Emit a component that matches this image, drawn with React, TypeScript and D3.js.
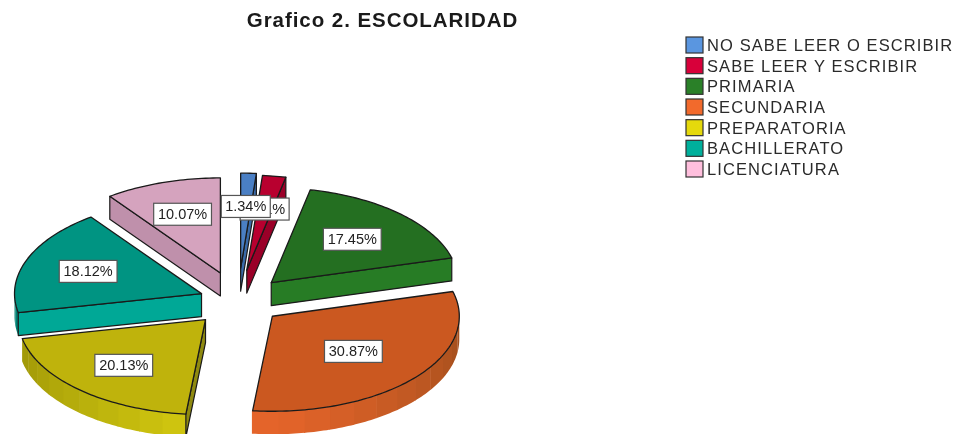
import React from "react";
import * as d3 from "d3";

const categories = ["NO SABE LEER O ESCRIBIR", "SABE LEER Y ESCRIBIR", "PRIMARIA", "SECUNDARIA", "PREPARATORIA", "BACHILLERATO", "LICENCIATURA"];
const percents = [1.34, 2.01, 17.45, 30.87, 20.13, 18.12, 10.07];
const legendColors = ["#5A96E0", "#D8003A", "#2A8028", "#F26A2C", "#E5D90C", "#00B09C", "#FFBFDD"];
const topColors = ["#4A7FC4", "#B8002F", "#246F21", "#CB5820", "#BFB30C", "#009482", "#D5A3BE"];
const wallBright = ["#4A7FC4", "#C00032", "#277C25", "#E6652A", "#D4CA10", "#00A896", "#BF90AB"];
const wallDark = ["#33609A", "#8E0026", "#1E5F1C", "#A04E1C", "#989006", "#007D70", "#A87D96"];
const flatWalls = ["#3A6AA8", "#9A0028", "#277C25", "#A04E1C", "#8F8A10", "#00A896", "#BF90AB"];
const explodeFactors = [1.37, 1.3, 1.05, 0.98, 1.05, 0.85, 1.23];
const labelRadii = [0.65, 0.65, 0.63, 0.57, 0.65, 0.65, 0.65];

const W = 962, H = 434;
const RX = 187, RY = 95, DEPTH = 23;
const CX = 238, CY = 301, EX = 46, EY = 24;
const FONT = "'Liberation Sans', Arial, sans-serif";
const TAU = Math.PI * 2;
const RAD90 = Math.PI / 2;

const pieGen = d3.pie<number>().sort(null).value((d) => d).startAngle(0).endAngle(TAU);
const line = d3.line<[number, number]>();

function sampled(a0: number, a1: number, step = 0.02): number[] {
  const n = Math.max(2, Math.ceil((a1 - a0) / step) + 1);
  return d3.range(n).map((i) => a0 + ((a1 - a0) * i) / (n - 1));
}

const legendY = d3.scalePoint<string>().domain(categories).range([45, 169]);

export default function App() {
  const arcs = pieGen(percents);
  const slices = arcs.map((arc, i) => {
    const mid = (arc.startAngle + arc.endAngle) / 2;
    const f = explodeFactors[i];
    const ax = CX + EX * f * Math.sin(mid);
    const ay = CY - EY * f * Math.cos(mid);
    const P = (t: number, dz = 0, r = 1): [number, number] => [ax + RX * r * Math.sin(t), ay - RY * r * Math.cos(t) + dz];
    const rim = sampled(arc.startAngle, arc.endAngle).map((t) => P(t));
    const top = line([[ax, ay], ...rim]) + "Z";
    const from = Math.max(arc.startAngle, RAD90);
    const to = Math.min(arc.endAngle, 3 * RAD90);
    const shade = d3.scaleLinear<string>()
      .domain([RAD90, Math.PI, 3 * RAD90])
      .range([wallDark[i], wallBright[i], wallDark[i]])
      .interpolate(d3.interpolateRgb);
    const bands: { d: string; c: string }[] = [];
    if (to > from) {
      const edges = sampled(from, to, 0.14);
      edges.slice(0, -1).forEach((a, k) => {
        const b = edges[k + 1];
        const up = sampled(a, b + 0.004, 0.02).map((t) => P(t));
        const down = sampled(a, b + 0.004, 0.02).reverse().map((t) => P(t, DEPTH));
        bands.push({ d: line([...up, ...down]) + "Z", c: shade((a + b) / 2) });
      });
    }
    const walls: string[] = [];
    const quad = (t: number) => line([[ax, ay], P(t), P(t, DEPTH), [ax, ay + DEPTH]]) + "Z";
    if (arc.endAngle < Math.PI) walls.push(quad(arc.endAngle));
    if (arc.startAngle > Math.PI) walls.push(quad(arc.startAngle));
    const lab = P(mid, 0, labelRadii[i]);
    return { i, top, bands, walls, lab };
  });

  return (
    <svg width={W} height={H} viewBox={`0 0 ${W} ${H}`}
      style={{ position: "absolute", left: 0, top: 0, filter: "blur(0.4px)" }}>
      <rect width={W} height={H} fill="#fff" />
      <text x={382.5} y={27} textAnchor="middle" fontFamily={FONT} fontWeight="bold" fontSize={20.5} letterSpacing={0.95} fill="#1a1a1a">Grafico 2. ESCOLARIDAD</text>

      {slices.map((s) => (
        <g key={s.i}>
          {s.bands.map((b, k) => (
            <path key={k} d={b.d} fill={b.c} />
          ))}
          {s.walls.map((d, k) => (
            <path key={k} d={d} fill={flatWalls[s.i]} stroke="#1a1a1a" strokeWidth={1.2} strokeLinejoin="round" />
          ))}
          <path d={s.top} fill={topColors[s.i]} stroke="#1a1a1a" strokeWidth={1.3} strokeLinejoin="round" />
        </g>
      ))}

      {slices.slice().reverse().map((s) => {
        const label = d3.format(".2f")(percents[s.i]) + "%";
        const w = label.length * 8.8 + 5, h = 22;
        return (
          <g key={s.i}>
            <rect x={s.lab[0] - w / 2} y={s.lab[1] - h / 2} width={w} height={h} fill="#fff" stroke="#555" strokeWidth={1.2} />
            <text x={s.lab[0]} y={s.lab[1] + 5} textAnchor="middle" fontFamily={FONT} fontSize={14.5} fill="#222">{label}</text>
          </g>
        );
      })}

      {categories.map((c, i) => {
        const y = legendY(c)!;
        return (
          <g key={c}>
            <rect x={686} y={y - 8} width={17} height={16} fill={legendColors[i]} stroke="#333" strokeWidth={1.2} />
            <text x={707} y={y + 6} fontFamily={FONT} fontSize={16.5} letterSpacing={1.1} fill="#2a2a2a">{c}</text>
          </g>
        );
      })}
    </svg>
  );
}
